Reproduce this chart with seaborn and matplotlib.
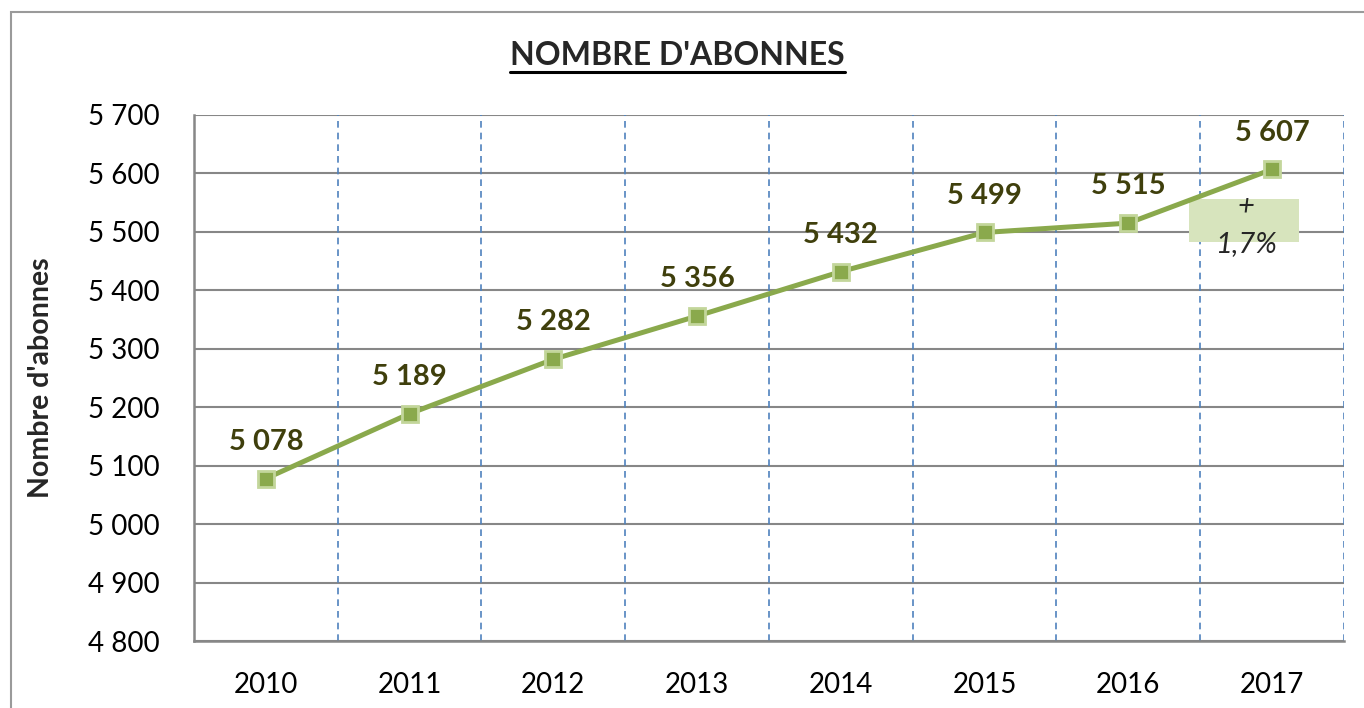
"""Courbe du nombre d'abonnés 2010-2017 (recréation seaborn)."""

import matplotlib

matplotlib.use("Agg")
import matplotlib.pyplot as plt
from matplotlib.patches import Rectangle
from matplotlib.ticker import FuncFormatter, FixedLocator
import pandas as pd
import seaborn as sns

years = ["2010", "2011", "2012", "2013", "2014", "2015", "2016", "2017"]
abonnes = [5078, 5189, 5282, 5356, 5432, 5499, 5515, 5607]
y_ticks = list(range(4800, 5701, 100))
evolution = "+\n1,7%"
title = "NOMBRE D'ABONNES"
y_label = "Nombre d'abonnes"

LINE = "#8aa94c"
MARK_EDGE = "#c3d69b"
LABEL = "#3f3f0c"
GRID = "#878787"
DASH = "#4f81bd"

sns.set_theme(style="white")
plt.rcParams["font.family"] = ["Lato", "DejaVu Sans"]

df = pd.DataFrame({"pos": range(len(years)), "abonnes": abonnes})

fig = plt.figure(figsize=(13.64, 7.08), dpi=100)
ax = fig.add_axes([0.1422, 0.0946, 0.8431, 0.743])

# cadre extérieur
fig.patches.append(Rectangle((11 / 1364, -0.1), 1.2, 1.1 - 12 / 708,
                             transform=fig.transFigure, fill=False,
                             edgecolor="#9a9a9a", linewidth=1.5))

sns.lineplot(data=df, x="pos", y="abonnes", ax=ax, color=LINE, linewidth=3.6,
             marker="s", markersize=12, markerfacecolor=LINE,
             markeredgecolor=MARK_EDGE, markeredgewidth=2, zorder=5)

for x, v in zip(df["pos"], df["abonnes"]):
    ax.annotate(f"{v:,}".replace(",", " "), (x, v), xytext=(0, 26.5),
                textcoords="offset points", ha="center", va="center",
                fontsize=21, fontweight="bold", color=LABEL, zorder=6)

ax.set_xlim(-0.5, len(years) - 0.5)
ax.set_ylim(y_ticks[0], y_ticks[-1])
ax.yaxis.set_major_locator(FixedLocator(y_ticks))
ax.yaxis.set_major_formatter(FuncFormatter(lambda v, _: f"{int(v):,}".replace(",", " ")))
ax.set_xticks(range(len(years)))
ax.set_xticklabels(years)
ax.set_xticks([i - 0.5 for i in range(len(years) + 1)], minor=True)
ax.tick_params(axis="x", which="major", length=0, pad=22, labelsize=20, colors="black")
ax.tick_params(axis="x", which="minor", length=7, width=1.5, color=GRID, direction="out")
ax.tick_params(axis="y", length=7, width=1.5, color=GRID, direction="out",
               labelsize=20, labelcolor="black", pad=18)

ax.grid(axis="y", color=GRID, linewidth=1.5)
for b in range(1, len(years) + 1):
    ax.axvline(b - 0.5, color=DASH, linestyle=(0, (4, 3)), linewidth=1.2, zorder=1)

for side in ["top", "right"]:
    ax.spines[side].set_visible(False)
for side in ["left", "bottom"]:
    ax.spines[side].set_color(GRID)
    ax.spines[side].set_linewidth(1.8)

ax.set_xlabel("")
ax.set_ylabel(y_label, fontsize=20.5, fontweight="bold", labelpad=24)

# encadré d'évolution
ax.add_patch(Rectangle((6.42, 5483), 0.77, 73, facecolor="#d7e4bd",
                       edgecolor="none", zorder=3))
ax.text(6.82, 5512, evolution, ha="center", va="center", fontsize=21,
        fontstyle="italic", linespacing=1.55, zorder=4)

fig.text(0.4963, 0.922, title, ha="center", va="center", fontsize=23,
         fontweight="bold")
fig.add_artist(plt.Line2D([510 / 1364, 845 / 1364], [1 - 72 / 708] * 2,
                          color="black", linewidth=2.2, transform=fig.transFigure))

fig.savefig("out.png", dpi=100)
